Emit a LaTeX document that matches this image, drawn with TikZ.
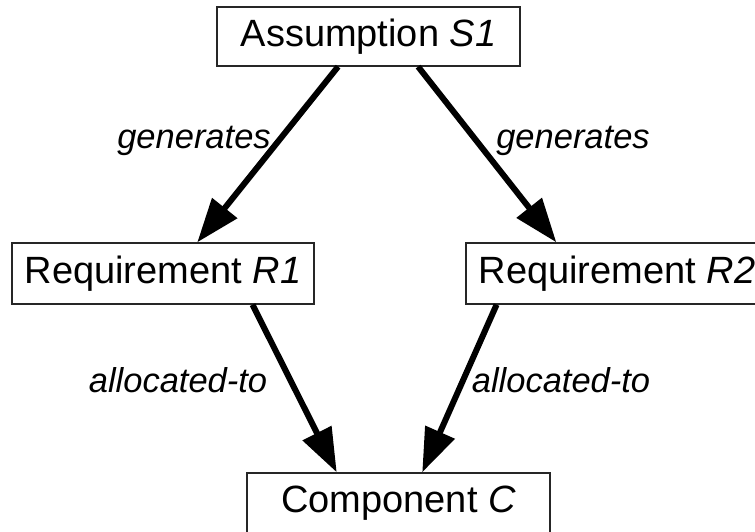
\documentclass[tikz,border=0pt]{standalone}
\usepackage{fontspec}
\setmainfont{Liberation Sans}
\usetikzlibrary{arrows.meta,calc}
\begin{document}
\begin{tikzpicture}[x=1pt,y=-1pt,
  box/.style={draw=black!85,line width=1.3pt,inner sep=0pt,font=\fontsize{38}{44}\selectfont,minimum height=60pt},
  lbl/.style={font=\fontsize{34.5}{40}\selectfont\itshape,inner sep=0pt,anchor=base},
  link/.style={line width=6pt,-{Triangle[length=44pt,width=31pt]}}]
\useasboundingbox (0,0) rectangle (755,532);
\node[box,minimum width=303pt,minimum height=59pt] (s1) at (368.5,36.5) {Assumption \textit{S1}};
\node[box,minimum width=302pt,minimum height=61pt] (r1) at (163,273.5) {Requirement \textit{R1}};
\node[box,minimum width=302pt,minimum height=61pt] (r2) at (617,273.5) {Requirement \textit{R2}};
\node[box,minimum width=303pt,minimum height=61pt] (c) at (398.5,503.5) {Component \textit{C}};
\draw[link] ($(s1.south west)!0.40!(s1.south east)$) -- ($(r1.north west)!0.613!(r1.north east)$);
\draw[link] ($(s1.south west)!0.663!(s1.south east)$) -- ($(r2.north west)!0.30!(r2.north east)$);
\draw[link] ($(r1.south west)!0.795!(r1.south east)$) -- ($(c.north west)!0.297!(c.north east)$);
\draw[link] ($(r2.south west)!0.103!(r2.south east)$) -- ($(c.north west)!0.578!(c.north east)$);
\node[lbl] (g1) at (194,149) {generates};
\node[lbl] (g2) at (573,149) {generates};
\node[lbl] (a1) at (178,392) {allocated-to};
\node[lbl] (a2) at (561,392) {allocated-to};
\end{tikzpicture}
\end{document}
